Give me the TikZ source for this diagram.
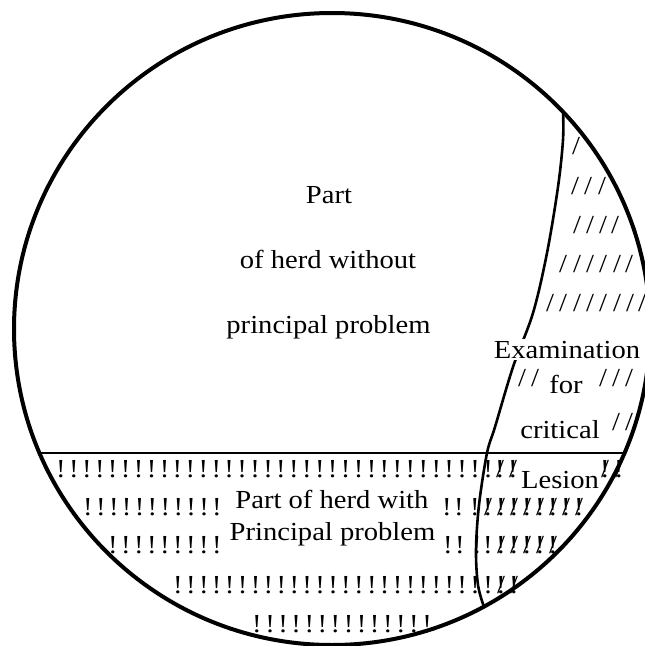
\documentclass[tikz,border=0pt]{standalone}
\usepackage{fontspec}
\setmainfont{Liberation Serif}[FakeStretch=1.1]
\newcommand\ovmark{\makebox[0pt]{!}\makebox[0pt]{/}}
\begin{document}
\begin{tikzpicture}[x=1pt,y=-1pt,
  lbl/.style={font=\fontsize{26}{30}\selectfont, inner sep=0pt, anchor=base},
  mk/.style={lbl},
  cover/.style={lbl, fill=white, inner xsep=1pt, inner ysep=2pt},
  rim/.style={line width=4pt},
  divider/.style={line width=2.6pt}]
\useasboundingbox (0,0) rectangle (645,646);
\fill[white] (0,0) rectangle (645,646);
% herd circle
\draw[rim] (332,329) ellipse [x radius=318pt, y radius=316pt];
% divider between parts of herd
\coordinate (hl) at (39.5,453);
\coordinate (hr) at (624.5,453);
\draw[divider] (hl) -- (hr);
% boundary of examined part
\coordinate (et) at (563,111);
\coordinate (eb) at (484,607);
\draw[divider] plot[smooth, tension=0.55] coordinates {(et) (563,140) (558,187) (547,253) (533,313) (513,367) (495,427) (487,453) (479,505) (476,550) (478,585) (eb)};
% labels
\node[lbl] (part) at (329,203) {Part};
\node[lbl] (ofherd) at (328,268) {of herd without};
\node[lbl] (princ) at (328.5,333) {principal problem};
\node[cover] (exam) at (567,358) {Examination};
\node[lbl] (for) at (566,393) {for};
\node[lbl] (crit) at (560,438) {critical};
\node[lbl] (lesion) at (560,488) {Lesion};
\node[lbl] (withp) at (332,508) {Part of herd with};
\node[lbl] (withpp) at (332.5,540) {Principal problem};
% slashes: examined part
\node[mk] (sa) at (576,154) {/};
\foreach \x [count=\k] in {575,588,602} \node[mk] (sb\k) at (\x,194) {/};
\foreach \x [count=\k] in {577,590,603,615} \node[mk] (sc\k) at (\x,233) {/};
\foreach \x [count=\k] in {563,577,590,603,617,629} \node[mk] (sd\k) at (\x,272) {/};
\foreach \x [count=\k] in {550,563,577,590,603,617,630,642} \node[mk] (se\k) at (\x,311) {/};
\foreach \x [count=\k] in {522,535,603,616,629} \node[mk] (sf\k) at (\x,386) {/};
\foreach \x [count=\k] in {616,629} \node[mk] (sg\k) at (\x,430) {/};
% exclamation marks: part with principal problem
\foreach \i in {0,...,33} \node[mk] (ra\i) at ({61+12.94*\i},477) {!};
\foreach \x [count=\k] in {500,513,605,619} \node[mk] (oa\k) at (\x,477) {\ovmark};
\foreach \i in {0,...,10} \node[mk] (rb\i) at ({88+12.9*\i},515) {!};
\foreach \x [count=\k] in {447,459,475} \node[mk] (rbx\k) at (\x,515) {!};
\foreach \x [count=\k] in {488,501,514,527,540,553,566,579} \node[mk] (ob\k) at (\x,515) {\ovmark};
\foreach \i in {0,...,8} \node[mk] (rc\i) at ({113+13*\i},553) {!};
\foreach \x [count=\k] in {448,460,477,488} \node[mk] (rcx\k) at (\x,553) {!};
\foreach \x [count=\k] in {501,514,527,540,553} \node[mk] (oc\k) at (\x,553) {\ovmark};
\foreach \i in {0,...,24} \node[mk] (rd\i) at ({178+12.92*\i},593) {!};
\foreach \x [count=\k] in {501,514} \node[mk] (od\k) at (\x,593) {\ovmark};
\foreach \i in {0,...,13} \node[mk] (re\i) at ({257+13.08*\i},632) {!};
\end{tikzpicture}
\end{document}
